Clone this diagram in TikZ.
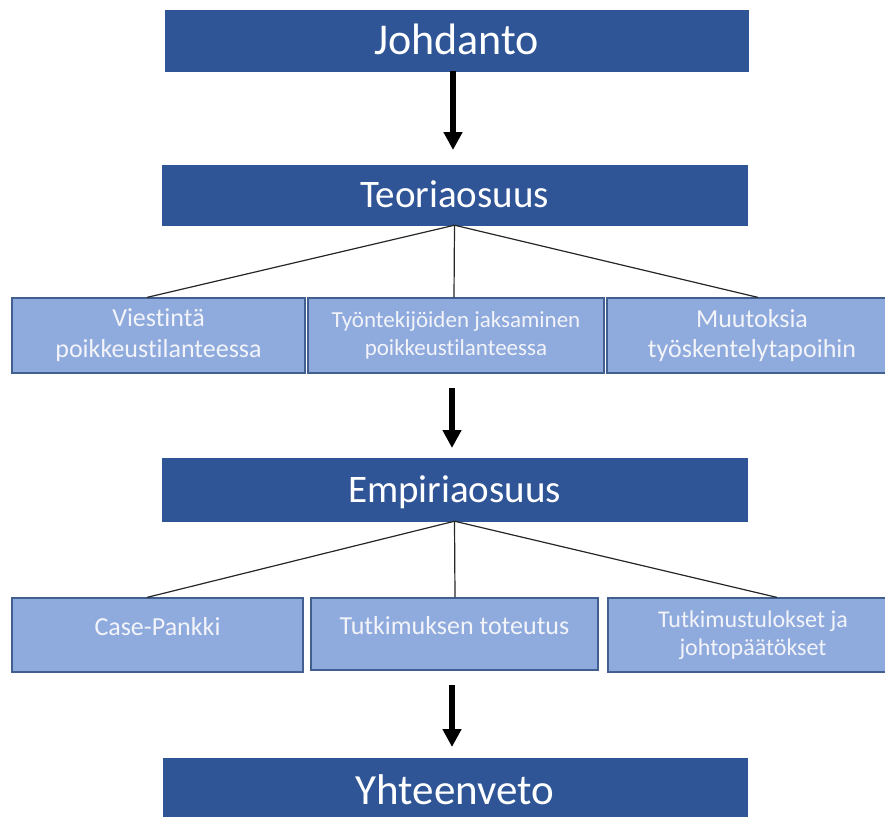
\documentclass[tikz,border=0pt]{standalone}
\usepackage{fontspec}
\setmainfont{Carlito}[Ligatures=NoCommon]
\usetikzlibrary{arrows.meta,calc}
\definecolor{darkb}{HTML}{2F5597}
\definecolor{lightb}{HTML}{8FAADC}
\definecolor{edgeb}{HTML}{41608F}
\definecolor{ltext}{HTML}{F2F4FA}
\begin{document}
\begin{tikzpicture}[x=1pt,y=-1pt,
  mainbox/.style={fill=darkb, draw=darkb, text=white, font=\fontsize{39}{44}\selectfont,
    inner sep=0pt, text height=25pt, text depth=0pt},
  subbox/.style={fill=lightb, draw=edgeb, line width=1.2pt, text=ltext, align=center,
    inner sep=0pt, minimum height=75pt, font=\fontsize{26}{30}\selectfont},
  oneline/.style={text height=16pt, text depth=16pt},
  link/.style={draw=black!85, line width=1.2pt},
  bigarrow/.style={draw=black, line width=5.5pt, -{Triangle[width=18pt,length=18pt]}}
]
\useasboundingbox (0,0) rectangle (885,816);
\clip (0,0) rectangle (885,816);

% main boxes
\node[mainbox, minimum width=583pt, minimum height=61pt, font=\fontsize{44}{48}\selectfont, text height=28pt] (J) at (456.5,40.5) {Johdanto};
\node[mainbox, minimum width=585pt, minimum height=60pt] (T) at (454.5,195) {Teoriaosuus};
\node[mainbox, minimum width=585pt, minimum height=63pt] (E) at (454.5,489.5) {Empiriaosuus};
\node[mainbox, minimum width=584pt, minimum height=58pt, font=\fontsize{43}{48}\selectfont, text height=35pt] (Y) at (455,787) {Yhteenveto};

% first row of sub boxes
\node[subbox, minimum width=293pt] (A) at (158.5,335.5) {Viestintä\\[1pt]poikkeustilanteessa};
\node[subbox, minimum width=296pt, font=\fontsize{23}{28}\selectfont] (B) at (456,335.5) {Työntekijöiden jaksaminen\\poikkeustilanteessa};
\node[subbox, minimum width=290pt] (C) at (752,335.5) {Muutoksia\\työskentelytapoihin};

% second row of sub boxes
\node[subbox, oneline, minimum width=291pt, minimum height=74pt] (D) at (157.5,635) {Case-Pankki};
\node[subbox, oneline, minimum width=287pt, minimum height=72pt] (EB) at (454.5,634) {Tutkimuksen toteutus};
\node[subbox, minimum width=290pt, minimum height=74pt, font=\fontsize{24}{28}\selectfont] (F) at (753,635) {Tutkimustulokset ja\\johtopäätökset};

% connectors
\draw[link] (T.south) -- ([xshift=-11.5pt]A.north);
\draw[link] (T.south) -- ([xshift=-2pt]B.north);
\draw[link] (T.south) -- ([xshift=6pt]C.north);
\draw[link] (E.south) -- ([xshift=-10.5pt]D.north);
\draw[link] (E.south) -- ([xshift=0.5pt]EB.north);
\draw[link] (E.south) -- ([xshift=24pt]F.north);

% arrows
\coordinate (a1s) at (453,71);  \coordinate (a1e) at (453,150);
\coordinate (a2s) at (452,388); \coordinate (a2e) at (452,448);
\coordinate (a3s) at (452,685); \coordinate (a3e) at (452,747);
\draw[bigarrow] (a1s) -- (a1e);
\draw[bigarrow] (a2s) -- (a2e);
\draw[bigarrow] (a3s) -- (a3e);
\end{tikzpicture}
\end{document}
